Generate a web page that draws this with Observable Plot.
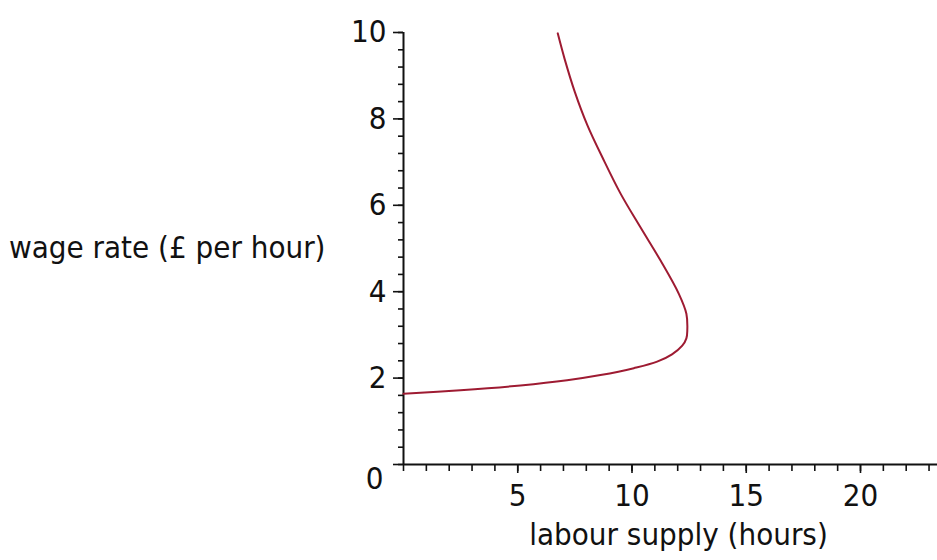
<!DOCTYPE html>
<html>
<head>
<meta charset="utf-8">
<script src="https://cdn.jsdelivr.net/npm/d3@7"></script>
<script src="https://cdn.jsdelivr.net/npm/@observablehq/plot@0.6"></script>
<style>
  html, body { margin: 0; padding: 0; background: #ffffff; }
  #chart svg { display: block; }
</style>
</head>
<body>
<div id="chart"></div>
<script>
// Data (labour supply in hours, wage rate in £ per hour), along the curve
const labourHours = [0, 2.49, 5.12, 7.16, 8.62, 10.08, 11.10, 11.75, 12.20, 12.38, 12.42, 12.38, 12.05, 11.25, 10.37, 9.50, 8.75, 8.05, 7.50, 7.05, 6.75];
const wageRate    = [1.64, 1.72, 1.83, 1.95, 2.07, 2.23, 2.38, 2.55, 2.75, 2.92, 3.10, 3.49, 3.95, 4.72, 5.49, 6.27, 7.06, 7.85, 8.62, 9.39, 9.98];

const xTickValues = [5, 10, 15, 20];
const yTickValues = [2, 4, 6, 8, 10];
const originLabel = [0];
const xMinorStep = 1;
const yMinorStep = 0.4;
const xLabel = "labour supply (hours)";
const yLabel = "wage rate (£ per hour)";

const curve = labourHours.map((h, i) => ({hours: h, wage: wageRate[i]}));
const xMinor = d3.range(0, 24).map(i => i * xMinorStep);
const yMinor = d3.range(0, 26).map(i => +(i * yMinorStep).toFixed(1));

const font = "'Liberation Sans Narrow', 'DejaVu Sans Condensed', 'Liberation Sans', sans-serif";

const chart = Plot.plot({
  width: 937,
  height: 560,
  marginLeft: 403,
  marginRight: 0,
  marginTop: 32,
  marginBottom: 96,
  x: {domain: [0, 23.37]},
  y: {domain: [0, 10]},
  style: {fontFamily: font, fontSize: "31px", color: "#111", background: "#fff"},
  marks: [
    Plot.axisY(yMinor, {tickSize: 5, text: null, label: null, strokeWidth: 1.6}),
    Plot.axisY([0, ...yTickValues], {tickSize: 10, tickPadding: 7, strokeWidth: 1.6,
      tickFormat: d => d === 0 ? "" : String(d), label: null, fontSize: 31}),
    Plot.axisX(xMinor, {tickSize: 7, text: null, label: null, strokeWidth: 1.6}),
    Plot.axisX(xTickValues, {tickSize: 9, tickPadding: 10, strokeWidth: 1.6, label: null, fontSize: 31}),
    Plot.text(originLabel, {x: d => d, y: d => d, text: d => String(d), textAnchor: "end",
      dx: -20, dy: 15, fontSize: 31, fill: "#111"}),
    Plot.ruleY([0], {stroke: "#111", strokeWidth: 2}),
    Plot.ruleX([0], {y1: 0, y2: 10, stroke: "#111", strokeWidth: 2}),
    Plot.line(curve, {x: "hours", y: "wage", curve: "catmull-rom", stroke: "#9e1b32", strokeWidth: 2}),
    Plot.text([xLabel], {frameAnchor: "bottom", text: d => d, lineAnchor: "top", dx: 8, dy: 58,
      fontSize: 31, fill: "#111"}),
    Plot.text([yLabel], {frameAnchor: "left", text: d => d, textAnchor: "end", dx: -78,
      fontSize: 31, fill: "#111"})
  ]
});
document.getElementById("chart").appendChild(chart);
</script>
</body>
</html>
